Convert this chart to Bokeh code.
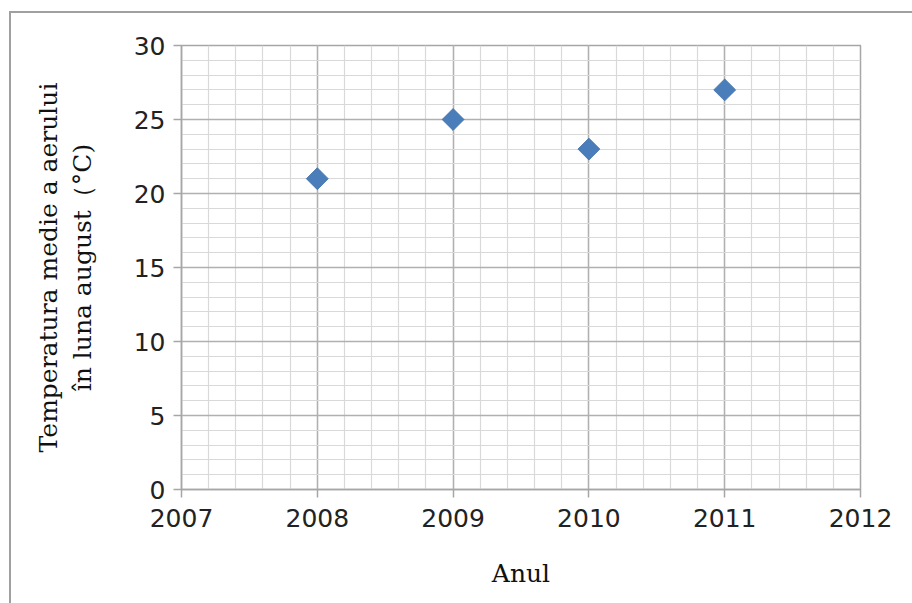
import math
from bokeh.plotting import figure
from bokeh.models import Range1d, SingleIntervalTicker, InlineStyleSheet
from bokeh.embed import file_html
from bokeh.resources import INLINE

years = [2008, 2009, 2010, 2011]
temps = [21, 25, 23, 27]
x_label = "Anul"
y_label = "Temperatura medie a aerului\nîn luna august（°C)"

p = figure(output_backend="svg", toolbar_location=None,
           frame_width=679, frame_height=444,
           min_border_left=181, min_border_top=45,
           min_border_right=52, min_border_bottom=114,
           x_range=Range1d(2007, 2012), y_range=Range1d(0, 30))
p.background_fill_color = "white"
p.border_fill_color = "white"
p.outline_line_color = "#a6a6a6"
p.outline_line_width = 1.5

p.xaxis.ticker = SingleIntervalTicker(interval=1, num_minor_ticks=5)
p.yaxis.ticker = SingleIntervalTicker(interval=5, num_minor_ticks=5)
p.xaxis.formatter.use_scientific = False

for ax in (p.xaxis, p.yaxis):
    ax.axis_line_color = "#a6a6a6"
    ax.axis_line_width = 1.5
    ax.major_tick_line_color = "#a6a6a6"
    ax.major_tick_line_width = 1.5
    ax.major_tick_out = 8
    ax.major_tick_in = 0
    ax.minor_tick_line_color = None
    ax.major_label_text_font = "DejaVu Sans"
    ax.major_label_text_font_size = "25px"
    ax.major_label_text_color = "#222222"
    ax.axis_label_text_font = "DejaVu Serif"
    ax.axis_label_text_font_size = "25px"
    ax.axis_label_text_font_style = "normal"
    ax.axis_label_text_color = "#111111"

p.xaxis.major_label_standoff = 11
p.yaxis.major_label_standoff = 8
p.xaxis.axis_label = x_label
p.yaxis.axis_label = y_label
p.xaxis.axis_label_standoff = 29
p.yaxis.axis_label_standoff = 34
p.yaxis.axis_label_text_line_height = 1.15

for g in (p.xgrid, p.ygrid):
    g.grid_line_color = "#b0b0b0"
    g.grid_line_width = 1.5
    g.minor_grid_line_color = "#d9d9d9"
    g.minor_grid_line_width = 1.2

p.scatter(years, temps, marker="square", angle=math.pi / 4, size=15.5,
          fill_color="#4a7ebb", line_color="#3f6fa8", line_width=0.8)

p.stylesheets.append(InlineStyleSheet(css="""
:host::after {
  content: "";
  position: absolute;
  left: 9px; top: 11px; right: -20px; bottom: -20px;
  border-left: 2.5px solid #a0a0a0;
  border-top: 2.5px solid #a0a0a0;
  pointer-events: none;
}
"""))

open("out.html", "w").write(file_html(p, INLINE))
